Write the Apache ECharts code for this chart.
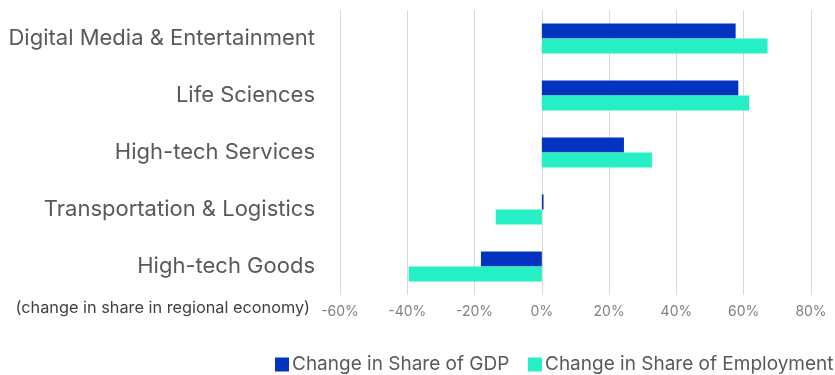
<!DOCTYPE html>
<html>
<head>
<meta charset="utf-8">
<script src="https://cdn.jsdelivr.net/npm/echarts@6/dist/echarts.min.js"></script>
<style>
  html, body { margin: 0; padding: 0; background: #ffffff; }
  #chart { width: 835px; height: 375px; }
</style>
</head>
<body>
<div id="chart"></div>
<script>
// Sectors, top to bottom
const categories = [
  'Digital Media & Entertainment',
  'Life Sciences',
  'High-tech Services',
  'Transportation & Logistics',
  'High-tech Goods'
];
// Change in share (%)
const gdpShare = [57.6, 58.4, 24.4, 0.5, -18.1];
const employmentShare = [67.1, 61.6, 32.7, -13.7, -39.6];
const seriesNames = ['Change in Share of GDP', 'Change in Share of Employment'];
const axisNote = '(change in share in regional economy)';

const fontFamily = 'Inter, "Noto Sans", sans-serif';
const legendBase = {
  top: 350,
  itemWidth: 14,
  itemHeight: 14,
  icon: 'rect',
  textStyle: { fontFamily, fontSize: 19, color: '#595959', padding: [0, 0, 0, -2] }
};
const chart = echarts.init(document.getElementById('chart'));
chart.setOption({
  animation: false,
  grid: { left: 340, right: 24, top: 10, bottom: 80 },
  legend: [
    Object.assign({ data: [seriesNames[0]], left: 270 }, legendBase),
    Object.assign({ data: [seriesNames[1]], left: 523 }, legendBase)
  ],
  xAxis: {
    type: 'value',
    min: -60,
    max: 80,
    interval: 20,
    axisLine: { show: false },
    axisTick: { show: false },
    splitLine: { lineStyle: { color: '#d9d9d9', width: 1 } },
    axisLabel: {
      formatter: v => v + '%',
      fontFamily,
      fontSize: 14,
      color: '#7f7f7f',
      margin: 10
    }
  },
  yAxis: {
    type: 'category',
    data: categories,
    inverse: true,
    axisLine: { show: false },
    axisTick: { show: false },
    axisLabel: { fontFamily, fontSize: 22, color: '#595959', margin: 25, padding: [0, 0, 6, 0] }
  },
  graphic: [{
    type: 'text',
    right: 835 - 310,
    top: 300,
    style: { text: axisNote, font: '16.3px ' + fontFamily, fill: '#404040' }
  }],
  series: [
    {
      name: seriesNames[0],
      type: 'bar',
      data: gdpShare,
      barWidth: 15,
      barGap: '0%',
      itemStyle: { color: '#0234C0' }
    },
    {
      name: seriesNames[1],
      type: 'bar',
      data: employmentShare,
      barWidth: 15,
      barGap: '0%',
      itemStyle: { color: '#27EFC5' }
    }
  ]
});
</script>
</body>
</html>
